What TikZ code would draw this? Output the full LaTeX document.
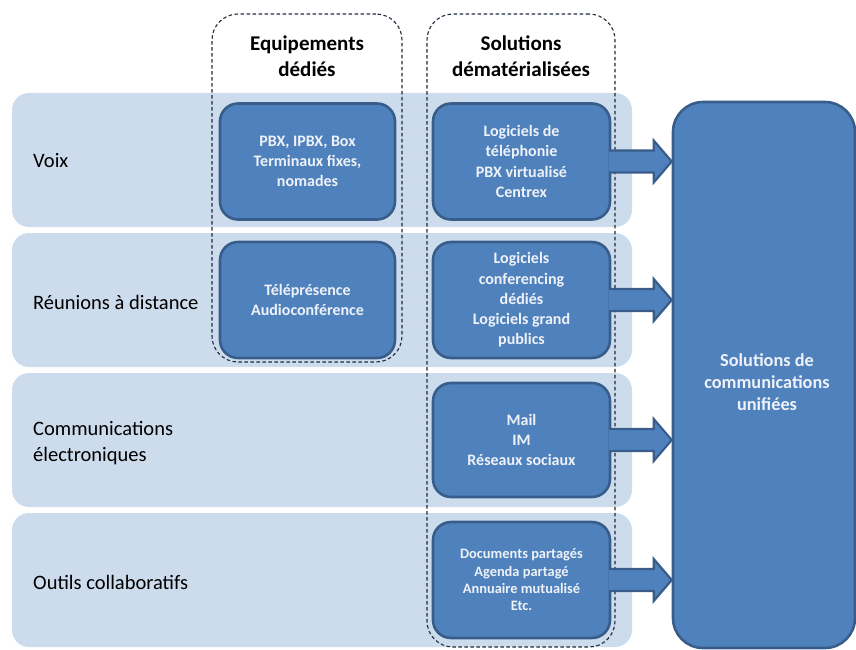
\documentclass[tikz,border=0pt]{standalone}
\usepackage{fontspec}
\setmainfont{Carlito}
\usetikzlibrary{calc}

\definecolor{bandblue}{HTML}{CDDCEC}
\definecolor{boxblue}{HTML}{4F81BD}
\definecolor{boxedge}{HTML}{385D8A}
\definecolor{dashgray}{HTML}{1E2B3D}
\definecolor{boxtext}{HTML}{EEF2F8}

\tikzset{
  band/.style={fill=bandblue, draw=none, rounded corners=17},
  groupframe/.style={draw=dashgray, line width=1.1pt, dash pattern=on 3.5pt off 2.5pt,
    rounded corners=26, inner sep=0pt},
  darkbox/.style={rectangle, fill=boxblue, draw=boxedge, line width=2.6pt, rounded corners=18,
    minimum width=175, minimum height=116, inner sep=0pt, align=center,
    text=boxtext, font=\bfseries\fontsize{16}{20.3}\selectfont},
  bigbox/.style={rectangle, fill=boxblue, draw=boxedge, line width=2.6pt, rounded corners=30,
    minimum width=182, minimum height=546, inner sep=0pt},
  bigtext/.style={align=center, inner sep=0pt, text=boxtext,
    font=\bfseries\fontsize{18.3}{21.8}\selectfont},
  blockarrow/.style={fill=boxblue, draw=boxedge, line width=2.2pt, line join=miter},
  rowlabel/.style={anchor=west, align=left, inner sep=0pt,
    font=\fontsize{20.5}{25.5}\selectfont},
  header/.style={align=center, inner sep=0pt, font=\bfseries\fontsize{21}{26}\selectfont}
}

\begin{document}
\begin{tikzpicture}[x=1pt, y=-1pt]
  \useasboundingbox (0,0) rectangle (856,650);

  % row bands
  \fill[band] (12,93)  rectangle (632,227);
  \fill[band] (12,233) rectangle (632,367);
  \fill[band] (12,373) rectangle (632,507);
  \fill[band] (12,513) rectangle (632,647);

  % row labels
  \node[rowlabel] (lv) at (33,161) {Voix};
  \node[rowlabel] (lr) at (33,302) {Réunions à distance};
  \node[rowlabel] (lc) at (33,443) {Communications\\électroniques};
  \node[rowlabel] (lo) at (33,582) {Outils collaboratifs};

  % dashed group frames
  \node[groupframe, minimum width=190, minimum height=348] (eqp) at (307,188) {};
  \node[groupframe, minimum width=188, minimum height=633] (sol) at (521,330.5) {};

  % group headers
  \node[header] (heqp) at (307,56) {Equipements\\dédiés};
  \node[header] (hsol) at (521,56) {Solutions\\dématérialisées};

  % dedicated equipment boxes
  \node[darkbox] (v1) at (307.5,161.5) {PBX, IPBX, Box\\Terminaux fixes,\\nomades};
  \node[darkbox] (r1) at (307.5,300) {Téléprésence\\Audioconférence};

  % dematerialised solution boxes
  \node[darkbox, minimum width=177] (v2) at (521.5,161.5) {Logiciels de\\téléphonie\\PBX virtualisé\\Centrex};
  \node[darkbox, minimum width=177] (r2) at (521.5,300) {Logiciels\\conferencing\\dédiés\\Logiciels grand\\publics};
  \node[darkbox, minimum width=177, minimum height=114] (c2) at (521.5,440) {Mail\\IM\\Réseaux sociaux};
  \node[darkbox, minimum width=177, font=\bfseries\fontsize{14.4}{17.3}\selectfont] (o2) at (521.5,580)
    {Documents partagés\\Agenda partagé\\Annuaire mutualisé\\Etc.};

  % unified communications box
  \node[bigbox] (big) at (764,375) {};
  \node[bigtext] (bigt) at ($(big.center)+(3,7)$) {Solutions de\\communications\\unifiées};

  % block arrows into the unified box
  \foreach \s in {v2,r2,c2,o2} {
    \path[blockarrow] let \p1=(\s.east), \p2=(big.west) in
      (\x1-1.5pt,\y1+11pt) -- (\x2-18pt,\y1+11pt) -- (\x2-18pt,\y1+21pt) -- (\x2,\y1)
      -- (\x2-18pt,\y1-21pt) -- (\x2-18pt,\y1-11pt) -- (\x1-1.5pt,\y1-11pt);
    \fill[boxblue] let \p1=(\s.east) in (\x1-2.6pt,\y1+9.9pt) rectangle (\x1+1pt,\y1-9.9pt);
  }
\end{tikzpicture}
\end{document}
